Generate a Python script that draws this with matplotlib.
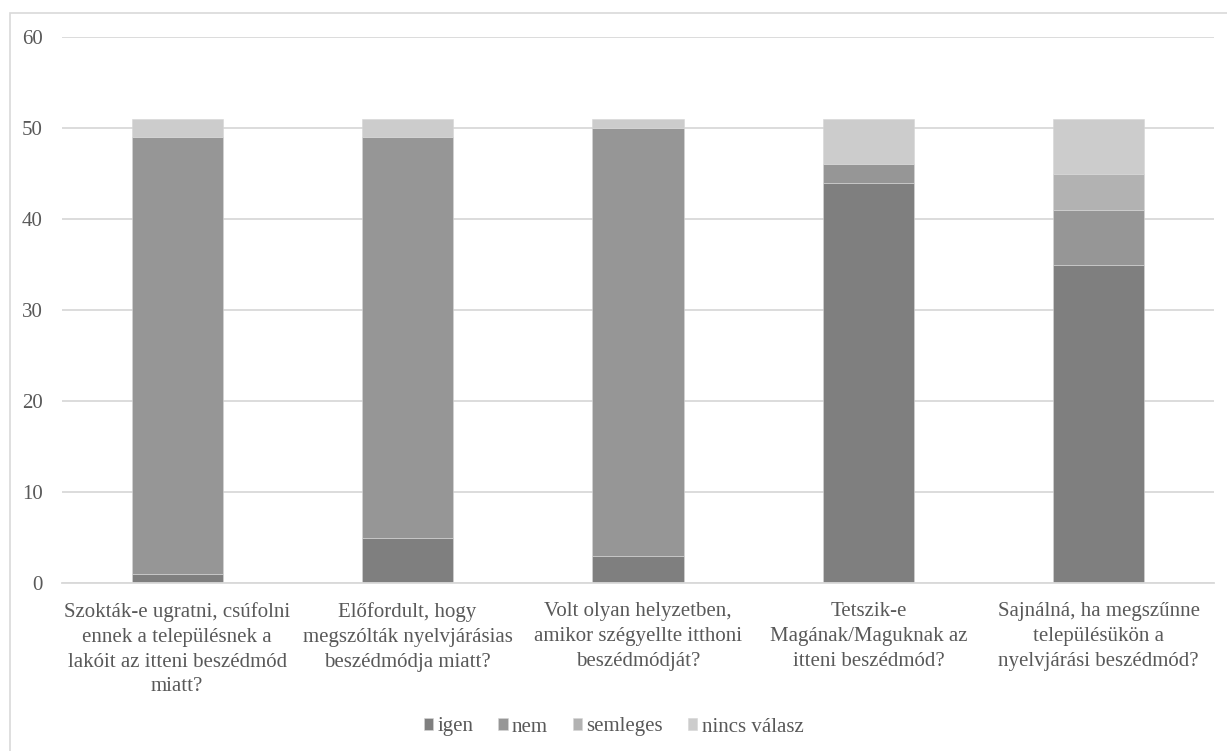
import matplotlib.pyplot as plt
from matplotlib.patches import Rectangle

plt.rcParams['font.family'] = ['Liberation Serif', 'DejaVu Serif']

categories = [
    'Szokták-e ugratni, csúfolni\nennek a településnek a\nlakóit az itteni beszédmód\nmiatt?',
    'Előfordult, hogy\nmegszólták nyelvjárásias\nbeszédmódja miatt?',
    'Volt olyan helyzetben,\namikor szégyellte itthoni\nbeszédmódját?',
    'Tetszik-e\nMagának/Maguknak az\nitteni beszédmód?',
    'Sajnálná, ha megszűnne\ntelepülésükön a\nnyelvjárási beszédmód?',
]
igen = [1, 5, 3, 44, 35]
nem = [48, 44, 47, 2, 6]
semleges = [0, 0, 0, 0, 4]
nincs_valasz = [2, 2, 1, 5, 6]

series = [
    ('igen', igen, '#7f7f7f'),
    ('nem', nem, '#969696'),
    ('semleges', semleges, '#b2b2b2'),
    ('nincs válasz', nincs_valasz, '#cccccc'),
]

text_color = '#595959'
grid_color = '#d9d9d9'

fig = plt.figure(figsize=(12.27, 7.51), dpi=100)
fig.patches.append(Rectangle((10 / 1227, -0.01), 1.0, 1 - 13 / 751 + 0.01,
                             transform=fig.transFigure, fill=False,
                             edgecolor=grid_color, linewidth=1.2))
ax = fig.add_axes([62 / 1227, 1 - 583 / 751, 1152 / 1227, 546 / 751])

x = range(len(categories))
bottom = [0] * len(categories)
for name, vals, color in series:
    ax.bar(x, vals, width=0.395, bottom=bottom, color=color, label=name,
           edgecolor='#d6d6d6', linewidth=0.4)
    bottom = [b + v for b, v in zip(bottom, vals)]

ax.set_xlim(-0.5, len(categories) - 0.5)
ax.set_ylim(0, 60)
ax.set_yticks(range(0, 61, 10))
ax.yaxis.grid(True, color=grid_color, linewidth=1.3)
ax.set_axisbelow(True)
for s in ['top', 'right', 'left']:
    ax.spines[s].set_visible(False)
ax.spines['bottom'].set_color(grid_color)
ax.spines['bottom'].set_linewidth(1.3)
ax.tick_params(length=0, colors=text_color, labelsize=15)
ax.tick_params(axis='y', pad=14)
ax.tick_params(axis='x', pad=14)
ax.set_xticks(list(x))
ax.set_xticklabels(categories, linespacing=1.4)

ax.legend(loc='center', bbox_to_anchor=(0.5, (751 - 727) / 751),
          bbox_transform=fig.transFigure, ncol=4, frameon=False,
          fontsize=15, labelcolor=text_color, handlelength=0.45,
          handleheight=0.45, handletextpad=0.2, columnspacing=1.2)

fig.savefig('out.png', dpi=100)
